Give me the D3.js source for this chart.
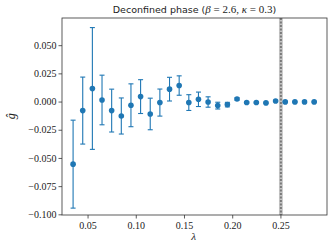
<!DOCTYPE html>
<html>
<head>
<meta charset="utf-8">
<script src="https://d3js.org/d3.v7.min.js"></script>
<style>
  body { margin: 0; background: #fff; }
  text { fill: #222; }
  .serif text, text.serif, tspan.serif { font-family: "Liberation Serif", "DejaVu Serif", serif; }
</style>
</head>
<body>
<script>
const lambdas = [0.035, 0.045, 0.055, 0.065, 0.075, 0.085, 0.095, 0.105, 0.115, 0.125,
  0.135, 0.145, 0.155, 0.165, 0.175, 0.185, 0.195, 0.205, 0.215, 0.225,
  0.235, 0.245, 0.255, 0.265, 0.275, 0.285];
const gValues = [-0.0555, -0.008, 0.0116, 0.0014, -0.008, -0.0128, -0.0033, 0.0044, -0.011, -0.0009,
  0.011, 0.0142, -0.0009, 0.002, -0.0004, -0.0036, -0.0027, 0.0023, -0.0009, -0.0009,
  -0.0012, 0.0005, -0.0003, -0.0003, -0.0003, -0.0003];
const gErrors = [0.039, 0.0297, 0.054, 0.022, 0.019, 0.016, 0.019, 0.015, 0.014, 0.012,
  0.0105, 0.0086, 0.007, 0.0064, 0.0046, 0.003, 0.002, 0.001, 0.0006, 0.0005,
  0.0005, 0.0005, 0.0004, 0.0004, 0.0004, 0.0004];
const xTicks = [0.05, 0.10, 0.15, 0.20, 0.25];
const yTicks = [0.050, 0.025, 0.000, -0.025, -0.050, -0.075, -0.100];
const lambdaCritical = 0.2505;
const lambdaBand = [0.2485, 0.2525];

const width = 332, height = 251;
const margin = {left: 62, right: 5, top: 18, bottom: 36};

const svg = d3.select("body").append("svg")
  .attr("width", width).attr("height", height);

const x = d3.scaleLinear().domain([0.0235, 0.2983]).range([margin.left, width - margin.right]);
const y = d3.scaleLinear().domain([-0.1006, 0.0741]).range([height - margin.bottom, margin.top]);

const fmt = d => d < 0 ? "\u2212" + d3.format(".3f")(-d) : d3.format(".3f")(d);

// axes
const gx = svg.append("g")
  .attr("transform", `translate(0,${height - margin.bottom})`)
  .call(d3.axisBottom(x).tickValues(xTicks).tickFormat(d3.format(".2f")).tickSize(3.5).tickPadding(3));
const gy = svg.append("g")
  .attr("transform", `translate(${margin.left},0)`)
  .call(d3.axisLeft(y).tickValues(yTicks).tickFormat(fmt).tickSize(3.5).tickPadding(2));
[gx, gy].forEach(g => {
  g.attr("class", "serif").attr("font-family", null).attr("font-size", 10);
  g.select(".domain").remove();
  g.selectAll("line").attr("stroke", "#333").attr("stroke-width", 0.8);
  g.selectAll("text").attr("fill", "#333");
});

// critical lambda band
svg.append("rect")
  .attr("x", x(lambdaBand[0])).attr("width", x(lambdaBand[1]) - x(lambdaBand[0]))
  .attr("y", margin.top).attr("height", height - margin.bottom - margin.top)
  .attr("fill", "#b5b5b5").attr("opacity", 0.8);
svg.append("line")
  .attr("x1", x(lambdaCritical)).attr("x2", x(lambdaCritical))
  .attr("y1", margin.top).attr("y2", height - margin.bottom)
  .attr("stroke", "#7a7a7a").attr("stroke-width", 2).attr("stroke-dasharray", "2,1.5");

// error bars
const data = lambdas.map((l, i) => ({l, g: gValues[i], e: gErrors[i]}));
const eb = svg.append("g").attr("stroke", "#1f77b4").attr("stroke-width", 1.1);
eb.selectAll(".bar").data(data).join("line")
  .attr("x1", d => x(d.l)).attr("x2", d => x(d.l))
  .attr("y1", d => y(d.g - d.e)).attr("y2", d => y(d.g + d.e));
eb.selectAll(".capTop").data(data).join("line")
  .attr("x1", d => x(d.l) - 2.5).attr("x2", d => x(d.l) + 2.5)
  .attr("y1", d => y(d.g + d.e)).attr("y2", d => y(d.g + d.e));
eb.selectAll(".capBot").data(data).join("line")
  .attr("x1", d => x(d.l) - 2.5).attr("x2", d => x(d.l) + 2.5)
  .attr("y1", d => y(d.g - d.e)).attr("y2", d => y(d.g - d.e));

svg.append("g").selectAll("circle").data(data).join("circle")
  .attr("cx", d => x(d.l)).attr("cy", d => y(d.g)).attr("r", 2.8)
  .attr("fill", "#1f77b4");

// frame
svg.append("rect")
  .attr("x", margin.left).attr("y", margin.top)
  .attr("width", width - margin.left - margin.right)
  .attr("height", height - margin.top - margin.bottom)
  .attr("fill", "none").attr("stroke", "#333").attr("stroke-width", 0.8);

// title
const title = svg.append("text")
  .attr("x", (margin.left + width - margin.right) / 2).attr("y", 13)
  .attr("text-anchor", "middle").attr("font-size", 9.5)
  .attr("font-family", "'DejaVu Sans', sans-serif");
title.append("tspan").text("Deconfined phase (");
title.append("tspan").attr("class", "serif").attr("font-style", "italic").attr("font-size", 11).text("β");
title.append("tspan").attr("class", "serif").attr("font-size", 11).text(" = 2.6, ");
title.append("tspan").attr("class", "serif").attr("font-style", "italic").attr("font-size", 11).text("κ");
title.append("tspan").attr("class", "serif").attr("font-size", 11).text(" = 0.3");
title.append("tspan").text(")");

// axis labels
svg.append("text").attr("class", "serif")
  .attr("x", x(0.16)).attr("y", 240)
  .attr("text-anchor", "middle").attr("font-style", "italic")
  .attr("font-size", 11).text("λ");
svg.append("text").attr("class", "serif")
  .attr("transform", `translate(15,${y(-0.013)}) rotate(-90)`)
  .attr("text-anchor", "middle").attr("font-style", "italic")
  .attr("font-size", 12).text("ĝ");
</script>
</body>
</html>
